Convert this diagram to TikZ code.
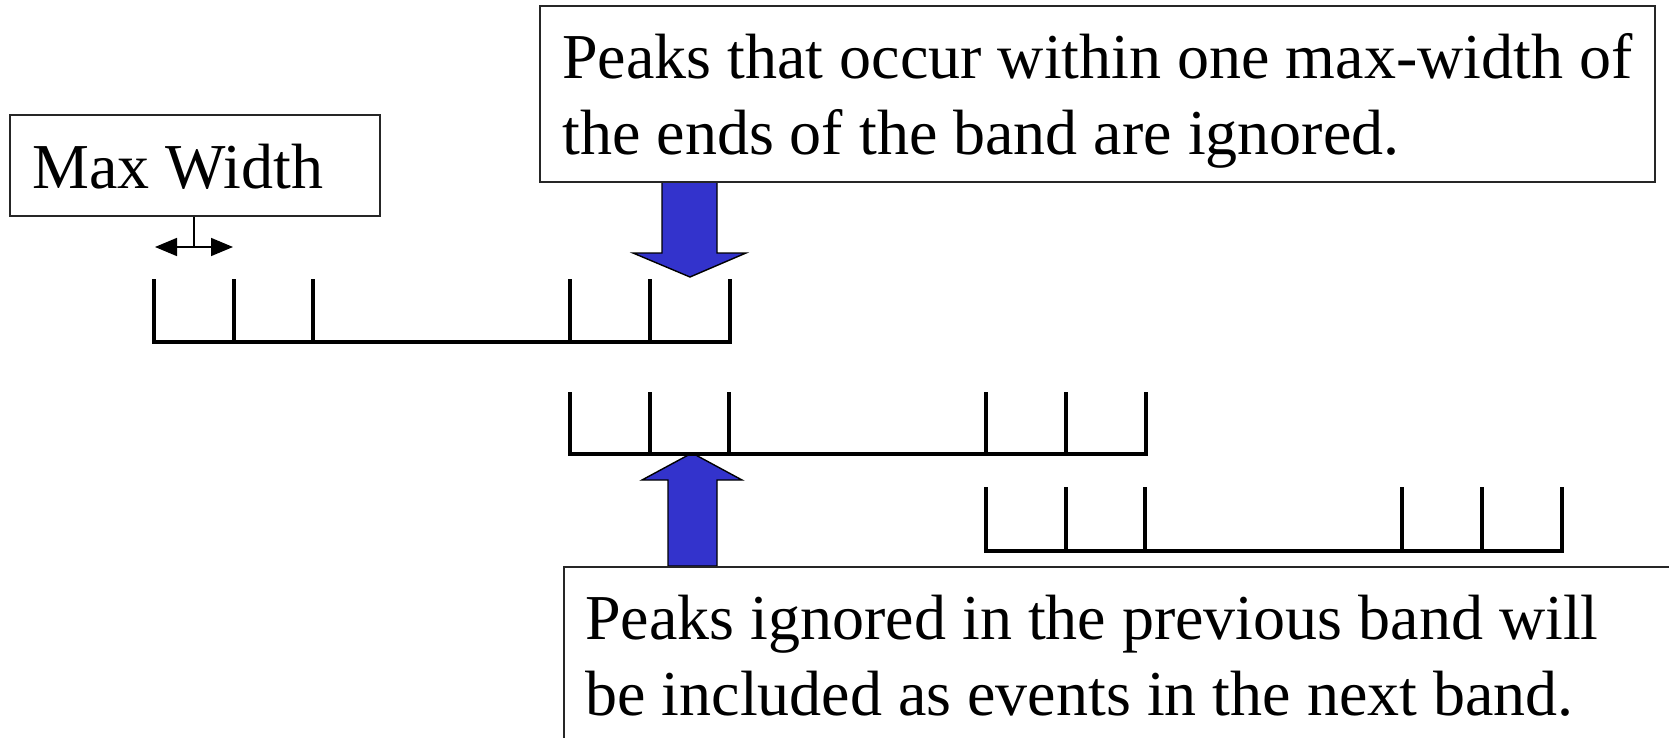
\documentclass[tikz,border=0pt]{standalone}
\usepackage{fontspec}
\setmainfont{Liberation Serif}
\usetikzlibrary{arrows.meta,fit}
\definecolor{blockblue}{RGB}{51,51,204}
\begin{document}
\begin{tikzpicture}[x=0.5pt,y=-0.5pt,
  labelbox/.style={draw=black!85,line width=0.8pt,inner sep=0pt,fill=white},
  txt/.style={anchor=base west,inner sep=0pt,font=\fontsize{32}{38}\selectfont},
  bandline/.style={line width=1.9pt,line join=miter},
  blockarrow/.style={fill=blockblue,draw=black,line width=0.7pt,line join=miter},
  gauge/.style={line width=0.8pt,{Triangle[length=11pt,width=9pt]}-{Triangle[length=11pt,width=9pt]}}]
\useasboundingbox (0,0) rectangle (1669,738);

% block arrows (drawn first so the band lines sit on top)
\coordinate (dtip) at (690,277);
\coordinate (utip) at (692,453);
\draw[blockarrow] (662,182) -- (717,182) -- (717,253) -- (746,253) -- (dtip)
  -- (633,253) -- (662,253) -- cycle;
\draw[blockarrow] (668,566) -- (668,480) -- (642,480) -- (utip) -- (742,480)
  -- (717,480) -- (717,566) -- cycle;

% three overlapping bands, each with tick marks one max-width apart
\foreach \x/\yb/\yt in {154/342/279, 570/454/392, 986/551/487}{
  \draw[bandline] (\x,\yt) -- (\x,\yb) -- (\x+576,\yb) -- (\x+576,\yt)
    (\x+80,\yt) -- (\x+80,\yb)
    (\x+159,\yt) -- (\x+159,\yb)
    (\x+416,\yt) -- (\x+416,\yb)
    (\x+496,\yt) -- (\x+496,\yb);
}

% label boxes
\node[labelbox,fit={(10,115) (380,216)}] (mw) {};
\node[txt] (mwtext) at (32,188) {Max Width};

\node[labelbox,fit={(540,6) (1655,182)}] (topbox) {};
\node[txt] (top1) at (562,79) {Peaks that occur within one max-width of};
\node[txt] (top2) at (562,155) {the ends of the band are ignored.};

\node[labelbox,fit={(564,567) (1720,800)}] (botbox) {};
\node[txt] (bot1) at (585,639) {Peaks ignored in the previous band will};
\node[txt] (bot2) at (585,715) {be included as events in the next band.};

% max-width gauge
\coordinate (gl) at (155,247);
\coordinate (gr) at (233,247);
\coordinate (gs) at (194,247);
\draw[line width=0.8pt] (mw.south -| gs) -- (gs);
\draw[gauge] (gl) -- (gr);
\end{tikzpicture}
\end{document}
